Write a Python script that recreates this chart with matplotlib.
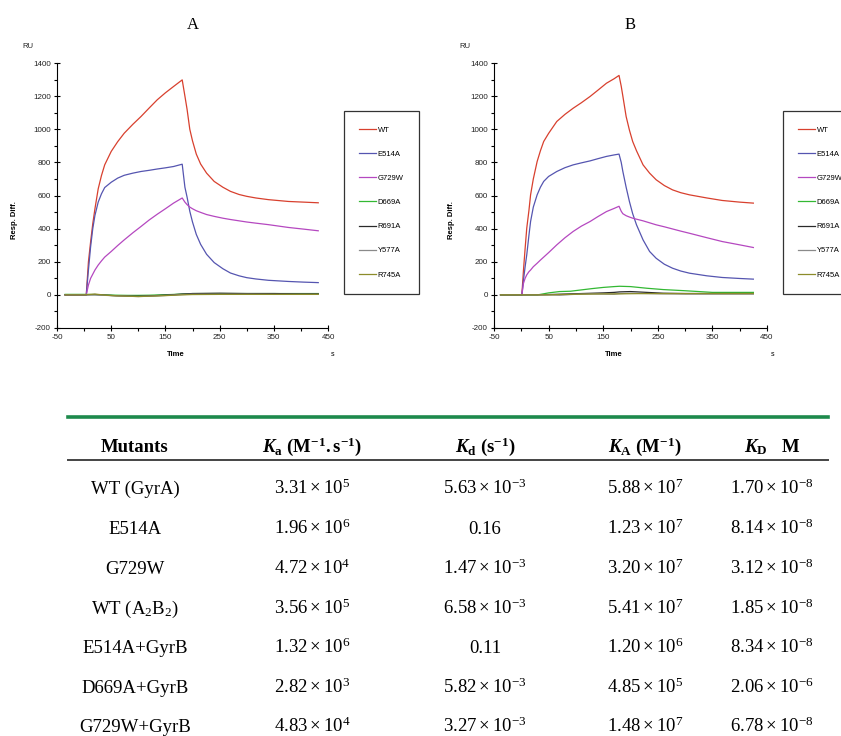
import numpy as np
import matplotlib
matplotlib.use('Agg')
import matplotlib.pyplot as plt
from matplotlib.lines import Line2D
from matplotlib.ticker import MultipleLocator, FixedLocator

plt.rcParams['font.family'] = ['Liberation Sans', 'DejaVu Sans']
plt.rcParams['axes.unicode_minus'] = False
plt.rcParams['mathtext.fontset'] = 'custom'
plt.rcParams['mathtext.rm'] = 'Liberation Serif'
plt.rcParams['mathtext.it'] = 'Liberation Serif:italic:bold'
plt.rcParams['mathtext.bf'] = 'Liberation Serif:bold'

#%% sensorgram data (RU vs time in s)
names = ['WT', 'E514A', 'G729W', 'D669A', 'R691A', 'Y577A', 'R745A']
colors = ['#d8402e', '#5555b0', '#b548c0', '#33b833', '#2a2a2a', '#8a8a8a', '#8c8c2a']

# panel A
tA = [-35, 0, 4, 8, 12, 16, 20, 26, 32, 38, 50, 62, 74, 90, 105, 120, 135, 150, 165, 181,
      186, 190, 195, 200, 207, 215, 226, 240, 256, 270, 286, 300, 317, 340, 377, 405, 432]
wt_A = [0, 0, 0, 200, 320, 430, 520, 640, 720, 785, 866, 925, 976, 1030, 1077, 1128, 1178, 1220, 1258, 1298,
        1200, 1120, 1000, 930, 850, 790, 735, 685, 650, 625, 606, 595, 585, 575, 564, 560, 556]
e514a_A = [0, 0, 0, 150, 290, 400, 480, 560, 610, 648, 680, 705, 722, 735, 745, 752, 760, 767, 775, 789,
           650, 590, 505, 440, 365, 305, 245, 195, 158, 132, 115, 104, 96, 88, 81, 77, 74]
g729w_A = [0, 0, 0, 60, 100, 125, 150, 180, 205, 228, 262, 298, 332, 375, 413, 452, 487, 520, 554, 585,
           560, 545, 530, 520, 508, 498, 485, 474, 463, 455, 447, 440, 433, 424, 407, 397, 387]
tA_low = [-35, 0, 20, 40, 60, 80, 100, 120, 140, 160, 181, 200, 250, 300, 350, 400, 432]
d669a_A = [3, 3, 2, 0, -2, -3, -3, -2, 0, 2, 5, 8, 8, 8, 8, 8, 8]
r691a_A = [0, 0, 2, -2, -5, -7, -8, -6, -3, 0, 5, 8, 10, 8, 8, 6, 6]
y577a_A = [0, 0, 0, -3, -6, -8, -10, -8, -5, -2, 2, 4, 4, 4, 3, 3, 3]
r745a_A = [0, 0, 5, -2, -6, -8, -10, -8, -6, -3, 0, 2, 3, 3, 3, 3, 3]

# panel B
tB = [-38, 0, 1, 4, 7, 10, 14, 17, 22, 29, 35, 41, 50, 65, 80, 95, 110, 126, 140, 156, 170, 179,
      183, 186, 192, 198, 204, 211, 223, 235, 247, 262, 277, 292, 308, 340, 368, 400, 425]
wt_B = [0, 0, 0, 150, 280, 403, 510, 604, 700, 805, 870, 926, 975, 1047, 1090, 1127, 1160, 1198, 1235, 1278, 1305, 1325,
        1260, 1200, 1077, 995, 926, 870, 785, 735, 695, 660, 634, 617, 604, 585, 570, 560, 554]
e514a_B = [0, 0, 0, 90, 170, 242, 360, 443, 530, 604, 650, 685, 715, 745, 768, 785, 797, 809, 822, 836, 845, 850,
           800, 745, 650, 564, 490, 423, 332, 262, 221, 185, 161, 144, 131, 115, 105, 99, 95]
g729w_B = [0, 0, 0, 70, 100, 121, 140, 150, 170, 191, 210, 228, 255, 302, 345, 383, 415, 443, 472, 503, 522, 535,
           505, 490, 478, 470, 463, 457, 447, 435, 423, 411, 398, 385, 372, 345, 322, 302, 286]
tB_low = [-38, 0, 30, 50, 70, 90, 110, 130, 150, 170, 180, 200, 230, 260, 300, 350, 400, 425]
d669a_B = [0, 0, 0, 12, 20, 22, 30, 38, 45, 50, 52, 50, 40, 32, 25, 15, 15, 15]
r691a_B = [0, 0, 0, 2, 4, 6, 8, 10, 12, 15, 18, 20, 15, 10, 8, 8, 8, 8]
y577a_B = [0, 0, 0, 0, -2, 2, 5, 6, 5, 4, 8, 10, 8, 6, 5, 5, 5, 5]
r745a_B = [0, 0, 0, 0, 2, 3, 4, 5, 6, 6, 6, 7, 8, 8, 8, 8, 8, 8]

#%% kinetics table
mutants = ['WT (GyrA)', 'E514A', 'G729W', r'WT (A$_2$B$_2$)', 'E514A+GyrB', 'D669A+GyrB', 'G729W+GyrB']
ka_m = ['3.31', '1.96', '4.72', '3.56', '1.32', '2.82', '4.83']
ka_e = [5, 6, 4, 5, 6, 3, 4]
kd_m = ['5.63', '0.16', '1.47', '6.58', '0.11', '5.82', '3.27']
kd_e = [-3, None, -3, -3, None, -3, -3]
KA_m = ['5.88', '1.23', '3.20', '5.41', '1.20', '4.85', '1.48']
KA_e = [7, 7, 7, 7, 6, 5, 7]
KD_m = ['1.70', '8.14', '3.12', '1.85', '8.34', '2.06', '6.78']
KD_e = [-8, -8, -8, -8, -8, -6, -8]
headers = [r'Mutants', r'$\mathit{K}_{\mathbf{a}}\ \mathbf{(M^{-1}{.}s^{-1})}$',
           r'$\mathit{K}_{\mathbf{d}}\ \mathbf{(s^{-1})}$', r'$\mathit{K}_{\mathbf{A}}\ \mathbf{(M^{-1})}$',
           r'$\mathit{K}_{\mathbf{D}}\quad\mathbf{M}$']

W, H = 841, 736
fig = plt.figure(figsize=(W / 100, H / 100), dpi=100)


def fx(px):
    return px / W


def fy(py):
    return 1 - py / H


def panel(left, right, t, main, t_low, low, title, tx, legx, sx):
    ax = fig.add_axes([fx(left), fy(328), (right - left) / W, (328 - 63) / H])
    lines = []
    for name, col, y in zip(names[:3], colors[:3], main):
        lines += ax.plot(t, y, color=col, lw=0.9, label=name)
    for name, col, y in zip(names[3:], colors[3:], low):
        lines += ax.plot(t_low, y, color=col, lw=0.9, label=name)
    ax.set_xlim(-50, 450)
    ax.set_ylim(-200, 1400)
    ax.xaxis.set_major_locator(FixedLocator(np.arange(-50, 451, 100)))
    ax.xaxis.set_minor_locator(FixedLocator(np.arange(0, 401, 100)))
    ax.yaxis.set_major_locator(MultipleLocator(200))
    ax.yaxis.set_minor_locator(MultipleLocator(100))
    ax.tick_params(which='major', direction='inout', length=5, width=0.8, labelsize=5.8,
                   labelcolor='#222222', pad=2)
    ax.tick_params(which='minor', direction='out', length=2, width=0.8)
    for s in ['top', 'right']:
        ax.spines[s].set_visible(False)
    for s in ['left', 'bottom']:
        ax.spines[s].set_linewidth(0.8)
    ax.patch.set_alpha(0)
    fig.text(fx(tx), fy(25), title, family='Liberation Serif', fontsize=12, ha='center', va='center')
    fig.text(fx(left - 35), fy(47), 'RU', fontsize=5.5, ha='left', va='center', color='#222222')
    fig.text(fx(left - 42), fy(220), 'Resp. Diff.', fontsize=5.5, weight='bold', rotation=90,
             ha='center', va='center')
    fig.text(fx((left + right) / 2 - 17), fy(354), 'Time', fontsize=5.5, weight='bold',
             ha='center', va='center')
    fig.text(fx(sx), fy(355), 's', fontsize=5, ha='center', va='center')
    leg = ax.legend(handles=lines, loc='upper left', bbox_to_anchor=(fx(legx), fy(111)),
                    bbox_transform=fig.transFigure, fontsize=5.5, frameon=True, fancybox=False,
                    borderpad=2.0, labelspacing=2.2, handlelength=2.2, handletextpad=0.2,
                    borderaxespad=0)
    leg.get_frame().set_edgecolor('black')
    leg.get_frame().set_linewidth(0.9)
    return ax


panel(57, 328, tA, [wt_A, e514a_A, g729w_A], tA_low, [d669a_A, r691a_A, y577a_A, r745a_A],
      'A', 193, 344, 333)
panel(494, 767, tB, [wt_B, e514a_B, g729w_B], tB_low, [d669a_B, r691a_B, y577a_B, r745a_B],
      'B', 630, 783, 773)

#%% table
fig.add_artist(Line2D([fx(68), fx(828)], [fy(417), fy(417)], color='#1d8a4c', lw=2.6))
fig.add_artist(Line2D([fx(68), fx(828)], [fy(460), fy(460)], color='#444444', lw=1.4))

col_x = [135, 312, 485, 645, 772]
tfont = dict(family='Liberation Serif', fontsize=13.5, ha='center', va='baseline')
for x, h in zip(col_x, headers):
    fig.text(fx(x), fy(452), h, weight='bold', **tfont)


def sci(m, e):
    if e is None:
        return m
    return r'$%s\times10^{%d}$' % (m, e)


row_y = [488, 528, 568, 608, 647, 687, 726]
for i, y in enumerate(row_y):
    cells = [mutants[i], sci(ka_m[i], ka_e[i]), sci(kd_m[i], kd_e[i]),
             sci(KA_m[i], KA_e[i]), sci(KD_m[i], KD_e[i])]
    for x, c in zip(col_x, cells):
        fig.text(fx(x), fy(y + 6), c, **tfont)

fig.savefig('out.png', dpi=100)
